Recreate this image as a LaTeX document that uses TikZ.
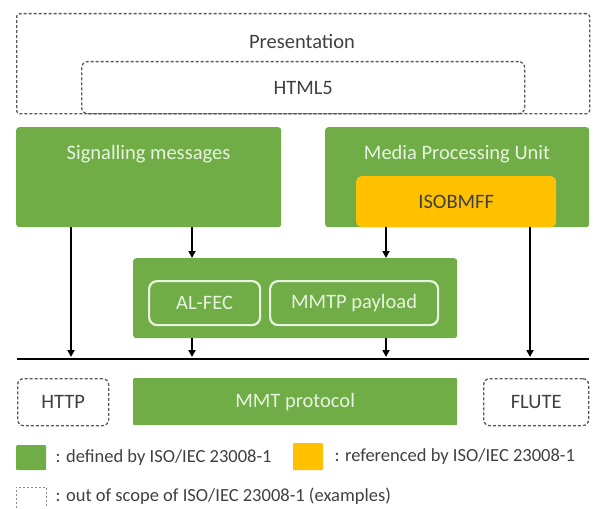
\documentclass[tikz,border=0pt]{standalone}
\usepackage{fontspec}
\setmainfont{Carlito}
\usetikzlibrary{arrows.meta}
\definecolor{mgreen}{HTML}{70AD47}
\definecolor{myellow}{HTML}{FFC000}
\definecolor{ltext}{HTML}{E8F3DF}
\definecolor{dtext}{HTML}{404040}
\definecolor{dgray}{HTML}{595959}
\tikzset{
  big/.style={font=\fontsize{20.5}{24}\selectfont},
  small/.style={font=\fontsize{18.5}{22}\selectfont},
  gbox/.style={fill=mgreen, draw=none, rounded corners=3pt, anchor=north west, inner sep=0pt, text=ltext, big},
  ybox/.style={fill=myellow, draw=none, rounded corners=5pt, anchor=north west, inner sep=0pt, text=dtext, big},
  wbox/.style={draw=ltext, line width=2.2pt, rounded corners=8pt, anchor=north west, inner sep=0pt, text=ltext, big},
  dbox/.style={draw=dgray, dash pattern=on 3pt off 2pt, line width=1.3pt, rounded corners=6pt, anchor=north west, inner sep=0pt, text=dtext, big},
  arr/.style={draw=black, line width=1.8pt, -{Triangle[length=7pt,width=7pt]}},
  bus/.style={draw=black, line width=2.8pt},
}
\begin{document}
\begin{tikzpicture}[x=1pt,y=-1pt]
\useasboundingbox (0,0) rectangle (596,508);
% presentation layer
\node[dbox, rounded corners=3pt, minimum width=573pt, minimum height=100pt] (pres) at (16,13) {};
\node[big, text=dtext] (prest) at (302,41) {Presentation};
\node[dbox, minimum width=443pt, minimum height=52pt] (html) at (81,61) {HTML5};
% green layer
\node[gbox, minimum width=265pt, minimum height=100pt] (sig) at (16,127) {};
\node[big, text=ltext] (sigt) at (148.5,154) {Signalling messages};
\node[gbox, minimum width=264pt, minimum height=100pt] (mpu) at (325,127) {};
\node[big, text=ltext] (mput) at (457,154) {Media Processing Unit};
\node[ybox, minimum width=200pt, minimum height=51pt] (iso) at (356,176) {ISOBMFF};
\node[gbox, minimum width=324pt, minimum height=80pt] (mid) at (133,258) {};
\node[wbox, minimum width=111pt, minimum height=44pt] (alfec) at (148,280) {AL-FEC};
\node[wbox, minimum width=168pt, minimum height=44pt] (mmtp) at (269,280) {MMTP payload};
% bus
\coordinate (busL) at (17,359);
\coordinate (busR) at (589,359);
\coordinate (b1) at (71,357);
\coordinate (b2) at (192,357);
\coordinate (b3) at (386,357);
\coordinate (b4) at (530,357);
\draw[bus] (busL) -- (busR);
\draw[arr] (sig.south -| b1) -- (b1);
\draw[arr] (sig.south -| b2) -- (mid.north -| b2);
\draw[arr] (iso.south -| b3) -- (mid.north -| b3);
\draw[arr] (mpu.south -| b4) -- (b4);
\draw[arr] (mid.south -| b2) -- (b2);
\draw[arr] (mid.south -| b3) -- (b3);
% bottom layer
\node[dbox, minimum width=91pt, minimum height=47pt] (http) at (17,378) {HTTP};
\node[gbox, rounded corners=1pt, minimum width=324pt, minimum height=47pt] (mmt) at (133,378) {MMT protocol};
\node[dbox, minimum width=105pt, minimum height=47pt] (flute) at (483,378) {FLUTE};
% legend
\node[gbox, rounded corners=1pt, minimum width=30pt, minimum height=25pt] (lg) at (16,445) {};
\node[small, text=dtext, anchor=west] (lgt) at (52,458) {: defined by ISO/IEC 23008-1};
\node[ybox, rounded corners=1pt, minimum width=30pt, minimum height=27pt] (ly) at (293,443) {};
\node[small, text=dtext, anchor=west] (lyt) at (331,457) {: referenced by ISO/IEC 23008-1};
\draw[draw=dgray!70, dash pattern=on 2pt off 2pt, line width=1pt] (16,508) -- (16,487) -- (46,487) -- (46,508);
\node[small, text=dtext, anchor=west] (ldt) at (52,496.5) {: out of scope of ISO/IEC 23008-1 (examples)};
\end{tikzpicture}
\end{document}
